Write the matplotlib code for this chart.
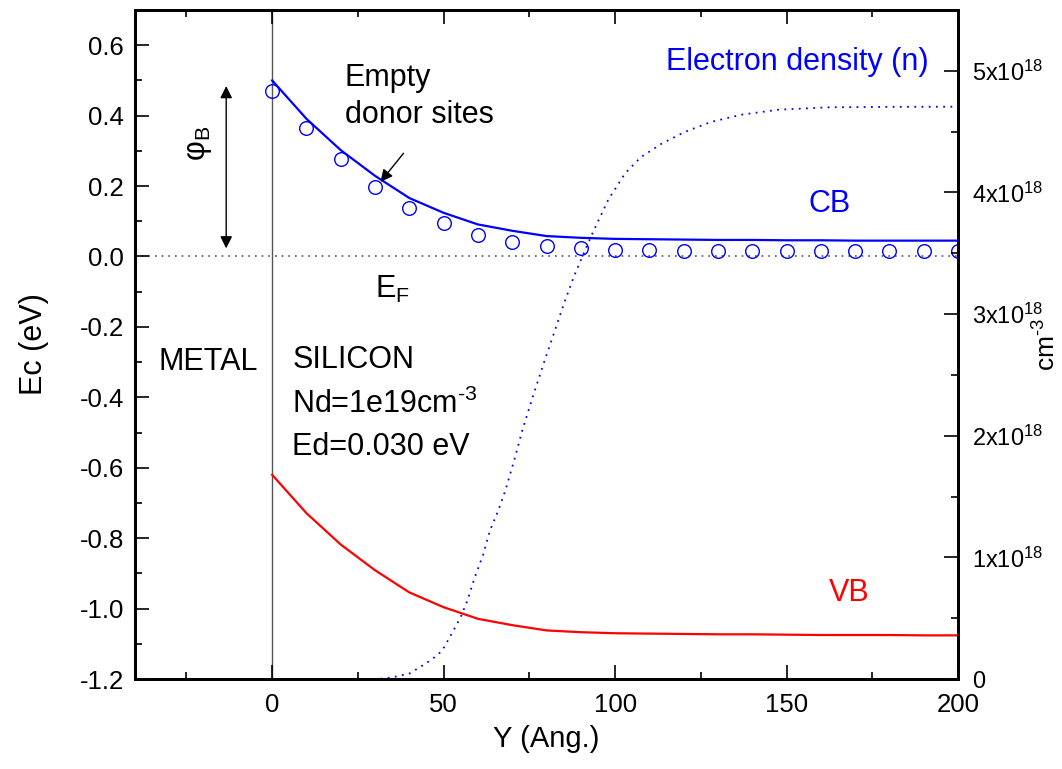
import matplotlib
matplotlib.use("Agg")
import matplotlib.pyplot as plt
from matplotlib.ticker import MultipleLocator, FuncFormatter

plt.rcParams['font.family'] = ['Liberation Sans', 'DejaVu Sans']
plt.rcParams['mathtext.fontset'] = 'custom'
plt.rcParams['mathtext.rm'] = 'Liberation Sans'
plt.rcParams['mathtext.it'] = 'Liberation Sans:italic'
plt.rcParams['axes.unicode_minus'] = False

# --- данные ---
y_pos = [0, 10, 20, 30, 40, 50, 60, 70, 80, 90, 100,
         110, 120, 130, 140, 150, 160, 170, 180, 190, 200]
cb = [0.500, 0.391, 0.302, 0.229, 0.166, 0.124, 0.091, 0.073, 0.058, 0.053, 0.050,
      0.049, 0.048, 0.047, 0.047, 0.046, 0.046, 0.045, 0.045, 0.045, 0.045]
vb = [-0.620, -0.729, -0.818, -0.891, -0.954, -0.996, -1.029, -1.047, -1.062, -1.067, -1.070,
      -1.071, -1.072, -1.073, -1.073, -1.074, -1.075, -1.075, -1.075, -1.076, -1.076]
donor = [0.469, 0.364, 0.276, 0.198, 0.138, 0.094, 0.061, 0.041, 0.030, 0.023, 0.018,
         0.017, 0.016, 0.016, 0.015, 0.015, 0.015, 0.015, 0.015, 0.015, 0.015]

n_pos = [0, 30, 33, 36, 40, 43, 46.5, 49.5, 52.5, 55, 57, 59, 61.5, 63.5, 66, 68, 70.5,
         73, 76, 79, 82.5, 85, 88, 93, 98, 103, 107.5, 113.5, 120.5, 128, 137, 147.5,
         162, 182, 200]
n_dens = [0, 0, 0.006, 0.02, 0.045, 0.096, 0.16, 0.23, 0.38, 0.51, 0.65, 0.83, 1.02,
          1.22, 1.39, 1.55, 1.79, 2.05, 2.32, 2.58, 2.87, 3.08, 3.31, 3.64, 3.94, 4.16,
          4.29, 4.40, 4.50, 4.58, 4.64, 4.68, 4.70, 4.704, 4.705]  # x1e18 cm^-3

right_ticks = [0, 1, 2, 3, 4, 5]

fig = plt.figure(figsize=(10.62, 7.69), dpi=100)
ax = fig.add_axes([0.1271, 0.117, 0.775, 0.870])
ax2 = ax.twinx()

ax.axvline(0, color='#555555', lw=1.0, zorder=1)
ax.axhline(0, color='#555555', lw=1.2, ls=(0, (1, 3)), zorder=1)

ax.plot(y_pos, cb, color='#0000FF', lw=1.6, zorder=3)
ax.plot(y_pos, vb, color='#FF0000', lw=1.6, zorder=3)
ax.plot(y_pos, donor, ls='none', marker='o', ms=9.8, mfc='none',
        mec='#0000FF', mew=1.0, zorder=4)

ax2.plot(n_pos, [v * 1e18 for v in n_dens], color='#0000FF', lw=1.3,
         ls=(0, (1, 3)), zorder=2)

ax.set_xlim(-40, 200)
ax.set_ylim(-1.2, 0.7)
ax2.set_ylim(0, 5.5e18)

ax.xaxis.set_major_locator(MultipleLocator(50))
ax.xaxis.set_minor_locator(MultipleLocator(25))
ax.yaxis.set_major_locator(MultipleLocator(0.2))
ax.yaxis.set_minor_locator(MultipleLocator(0.1))
ax.yaxis.set_major_formatter(FuncFormatter(lambda v, p: f"{v:.1f}"))

ax2.set_yticks([t * 1e18 for t in right_ticks])
ax2.set_yticklabels(['0'] + [rf'$\mathrm{{{t}x10^{{18}}}}$' for t in right_ticks[1:]])
ax2.yaxis.set_minor_locator(MultipleLocator(0.5e18))

ax.tick_params(axis='both', which='both', direction='in', labelsize=18.5,
               top=True, right=False)
ax.tick_params(which='major', length=10, width=1.2, pad=8)
ax.tick_params(axis='x', which='major', pad=10)
ax.tick_params(which='minor', length=5, width=1.2)
ax2.tick_params(axis='y', which='both', direction='in', labelsize=17)
ax2.tick_params(which='major', length=10, width=1.2, pad=10)
ax2.tick_params(which='minor', length=5, width=1.2)

for a in (ax, ax2):
    for s in a.spines.values():
        s.set_linewidth(2.0)

ax.set_xlabel('Y (Ang.)', fontsize=21, labelpad=6)
ax.set_ylabel('Ec (eV)', fontsize=22, labelpad=22)
ax2.set_ylabel('cm$^\\mathrm{\u20103}$', fontsize=19)
ax2.yaxis.set_label_coords(1.092, 0.5)

fs = 22
ax.text(114.9, 0.552, 'Electron density (n)', color='#0000FF', fontsize=fs, va='center')
ax.text(21.2, 0.506, 'Empty', fontsize=fs, va='center')
ax.text(21.2, 0.401, 'donor sites', fontsize=fs, va='center')
ax.annotate('', xy=(31.6, 0.212), xytext=(38.3, 0.293),
            arrowprops=dict(arrowstyle='-|>', color='black', lw=1.0,
                            mutation_scale=18, shrinkA=0, shrinkB=0))
ax.annotate('', xy=(-13.4, 0.023), xytext=(-13.4, 0.484),
            arrowprops=dict(arrowstyle='<|-|>', color='black', lw=1.0,
                            mutation_scale=18, shrinkA=0, shrinkB=0))
ax.text(-21.3, 0.322, '\u03c6$_\\mathrm{B}$', fontsize=fs, rotation=90,
        ha='center', va='center')
ax.text(30, -0.095, r'$\mathrm{E_F}$', fontsize=fs, va='center')
ax.text(-33, -0.299, 'METAL', fontsize=fs, va='center')
ax.text(5.9, -0.294, 'SILICON', fontsize=fs, va='center')
ax.text(5.9, -0.421, 'Nd=1e19cm$^\\mathrm{\u20103}$', fontsize=fs, va='center')
ax.text(5.9, -0.540, 'Ed=0.030 eV', fontsize=fs, va='center')
ax.text(156.5, 0.149, 'CB', color='#0000FF', fontsize=fs, va='center')
ax.text(162.2, -0.955, 'VB', color='#FF0000', fontsize=fs, va='center')

fig.savefig('out.png', dpi=100)
